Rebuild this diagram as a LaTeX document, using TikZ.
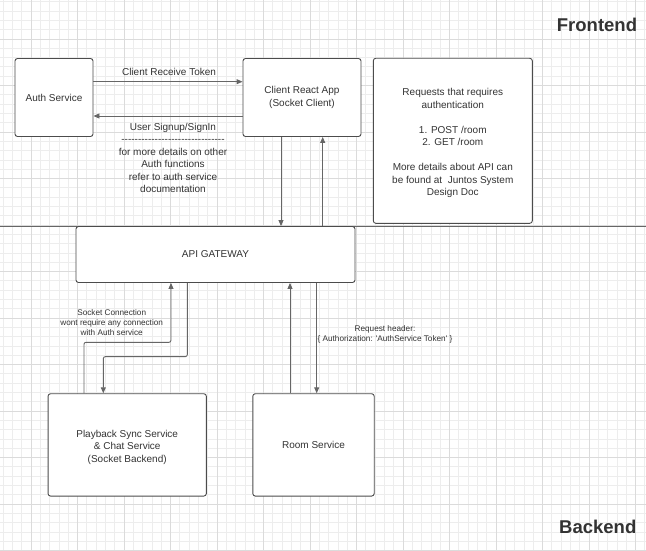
\documentclass[tikz,border=0pt]{standalone}
\usepackage{fontspec}
\setmainfont{Liberation Sans}
\usetikzlibrary{arrows.meta}

\begin{document}
\begin{tikzpicture}[x=1pt,y=-1pt,
            box/.style={draw=black!70,line width=0.9pt,rounded corners=2.5pt,fill=white,inner sep=0pt,text=black!80,align=center,font=\fontsize{10}{12.4}\selectfont},
            conn/.style={draw=black!60,line width=0.9pt,rounded corners=2pt,-{Triangle[length=6pt,width=5pt]}},
            lbl/.style={text=black!80,align=center,inner sep=0pt,font=\fontsize{10}{12.4}\selectfont},
            small/.style={text=black!80,align=center,inner sep=0pt,font=\fontsize{8.2}{10}\selectfont},
            side/.style={text=black!80,inner sep=0pt,font=\fontsize{18.5}{20}\selectfont\bfseries},
            gridminor/.style={draw=black!7,line width=0.8pt},
            gridmajor/.style={draw=black!14,line width=0.8pt}]
            \useasboundingbox[fill=white] (0,0) rectangle (646,551);
            \foreach \gx in {3.1,12.4,...,646} \draw[gridminor] (\gx,0) -- (\gx,551);
            \foreach \gy in {1.8,11.1,...,551} \draw[gridminor] (0,\gy) -- (646,\gy);
            \foreach \gx in {31,77.5,...,646} \draw[gridmajor] (\gx,0) -- (\gx,551);
            \foreach \gy in {39,85.5,...,551} \draw[gridmajor] (0,\gy) -- (646,\gy);
            \draw[black!60,line width=1pt] (0,226) -- (646,226);
            \node[side] (front) at (597,25) {Frontend};
            \node[side] (back) at (597.8,526.7) {Backend};
            \node[box,minimum width=78pt,minimum height=78pt] (auth) at (54,97.5) {Auth Service};
            \node[box,minimum width=118pt,minimum height=78pt] (client) at (302,97.5) {Client React App\\(Socket Client)};
            \node[box,minimum width=159pt,minimum height=165pt] (req) at (452.8,140.8) {\rule{0pt}{12pt}Requests that requires\\authentication\\[12.6pt]1. POST /room\\2. GET /room\\[12.6pt]More details about API can\\be found at\ \ Juntos System\\Design Doc};
            \node[box,minimum width=279pt,minimum height=56pt] (api) at (215.5,254.5) {API GATEWAY};
            \node[box,minimum width=158.3pt,minimum height=102.3pt,font=\fontsize{10}{12.8}\selectfont] (play) at (127.2,444.9) {\rule{0pt}{12pt}Playback Sync Service\\\& Chat Service\\(Socket Backend)};
            \node[box,minimum width=121.4pt,minimum height=102.3pt] (room) at (313.5,444.9) {Room Service};
            \draw[conn] ([yshift=15.8pt]auth.east) -- ([yshift=15.8pt]client.west);
            \draw[conn] ([yshift=-18.5pt]client.west) -- ([yshift=-18.5pt]auth.east);
            \node[lbl] (tok) at (169,72) {Client Receive Token};
            \node[lbl,anchor=north] (sign) at (173,123) {User Signup/SignIn\\-{}-{}-{}-{}-{}-{}-{}-{}-{}-{}-{}-{}-{}-{}-{}-{}-{}-{}-{}-{}-{}-{}-{}-{}-{}-{}-{}-{}-{}-{}-\\for more details on other\\Auth functions\\refer to auth service\\documentation};
            \coordinate (cdown) at ([xshift=-21pt]client.south);
            \coordinate (cup) at ([xshift=20.7pt]client.south);
            \draw[conn] (cdown) -- (cdown |- api.north);
            \draw[conn] (cup |- api.north) -- (cup);
            \coordinate (pup) at ([xshift=-43.2pt]play.north);
            \coordinate (pdown) at ([xshift=-23.9pt]play.north);
            \draw[conn] (pup) -- ++(0,-51) -| ([xshift=-44.5pt]api.south);
            \draw[conn] ([xshift=-28.2pt]api.south) -- ++(0,73.7) -| (pdown);
            \node[small] (sock) at (111.7,322.7) {Socket Connection\\wont require any connection\\with Auth service};
            \coordinate (rup) at ([xshift=-23.5pt]room.north);
            \coordinate (rdown) at ([xshift=3.2pt]room.north);
            \draw[conn] (rup) -- (rup |- api.south);
            \draw[conn] (rdown |- api.south) -- (rdown);
            \node[small] (hdr) at (385,334) {Request header:\\\{ Authorization: \textquotesingle AuthService Token\textquotesingle\ \}};
\end{tikzpicture}
\end{document}
